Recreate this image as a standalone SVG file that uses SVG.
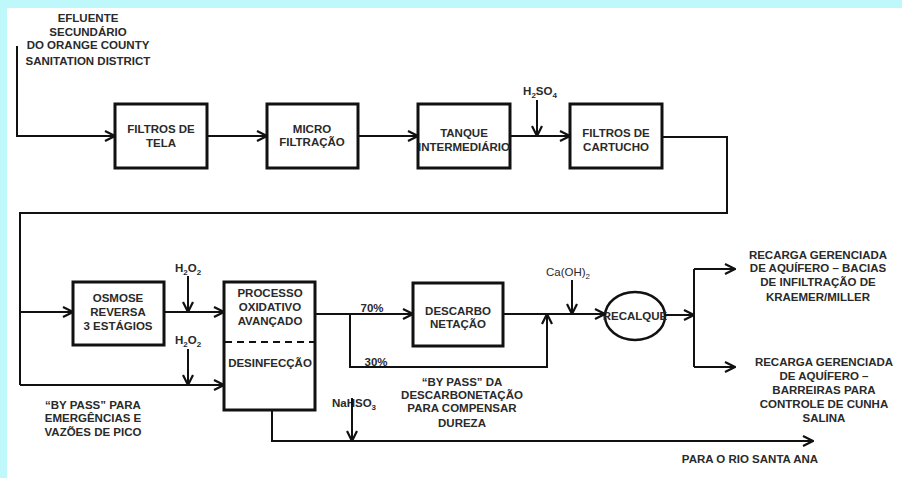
<svg xmlns="http://www.w3.org/2000/svg" width="902" height="478" viewBox="0 0 902 478">
<defs>
<marker id="arr" viewBox="0 0 12 12" markerUnits="userSpaceOnUse" markerWidth="12" markerHeight="12" refX="11" refY="6" orient="auto">
<path d="M1,1 L11,6 L1,11" fill="none" stroke="#111" stroke-width="2.2"/>
</marker>
<style>
.t{font-family:"Liberation Sans",Arial,sans-serif;font-weight:bold;font-size:11.5px;fill:#2a2a2a;text-anchor:middle}
.box{fill:#fff;stroke:#111;stroke-width:3}
.ln{fill:none;stroke:#111;stroke-width:2}
.ar{fill:none;stroke:#111;stroke-width:2;marker-end:url(#arr)}
.sub{font-size:8px}
</style>
</defs>
<rect x="0" y="0" width="902" height="478" fill="#bff8fa"/>
<rect x="7" y="8" width="895" height="470" fill="#fff"/>

<g id="source">
<text class="t" x="88" y="22">EFLUENTE</text>
<text class="t" x="88" y="36">SECUNDÁRIO</text>
<text class="t" x="88" y="49">DO ORANGE COUNTY</text>
<text class="t" x="88" y="65">SANITATION DISTRICT</text>
</g>

<g id="filtros-tela">
<rect class="box" x="115" y="104" width="92" height="64"/>
<text class="t" x="161" y="133">FILTROS DE</text>
<text class="t" x="161" y="147">TELA</text>
</g>
<g id="microfiltracao">
<rect class="box" x="267" y="104" width="91" height="64"/>
<text class="t" x="312" y="133">MICRO</text>
<text class="t" x="312" y="146">FILTRAÇÃO</text>
</g>
<g id="tanque">
<rect class="box" x="418" y="104" width="92" height="64"/>
<text class="t" x="464" y="137">TANQUE</text>
<text class="t" x="464" y="151">INTERMEDIÁRIO</text>
</g>
<g id="filtros-cartucho">
<rect class="box" x="570" y="104" width="92" height="64"/>
<text class="t" x="616" y="137">FILTROS DE</text>
<text class="t" x="616" y="151">CARTUCHO</text>
</g>
<g id="osmose">
<rect class="box" x="73" y="282" width="91" height="63"/>
<text class="t" x="118" y="302">OSMOSE</text>
<text class="t" x="118" y="316">REVERSA</text>
<text class="t" x="118" y="330">3 ESTÁGIOS</text>
</g>
<g id="poa">
<rect class="box" x="224" y="282" width="91" height="128"/>
<line x1="225" y1="342" x2="314" y2="342" stroke="#111" stroke-width="2" stroke-dasharray="7,5"/>
<text class="t" x="270" y="297">PROCESSO</text>
<text class="t" x="270" y="311">OXIDATIVO</text>
<text class="t" x="270" y="325">AVANÇADO</text>
<text class="t" x="270" y="367">DESINFECÇÃO</text>
</g>
<g id="descarbonetacao">
<rect class="box" x="413" y="283" width="90" height="63"/>
<text class="t" x="458" y="315">DESCARBO</text>
<text class="t" x="458" y="328">NETAÇÃO</text>
</g>
<g id="recalque">
<ellipse cx="635" cy="316" rx="30" ry="24" fill="#fff" stroke="#111" stroke-width="2.5"/>
<text class="t" x="635" y="320">RECALQUE</text>
</g>

<g id="reagents">
<text class="t" x="540" y="95">H<tspan class="sub" dy="3">2</tspan><tspan dy="-3">SO</tspan><tspan class="sub" dy="3">4</tspan></text>
<text class="t" x="188" y="272">H<tspan class="sub" dy="3">2</tspan><tspan dy="-3">O</tspan><tspan class="sub" dy="3">2</tspan></text>
<text class="t" x="188" y="344">H<tspan class="sub" dy="3">2</tspan><tspan dy="-3">O</tspan><tspan class="sub" dy="3">2</tspan></text>
<text class="t" x="568" y="276" style="font-weight:normal">Ca(OH)<tspan class="sub" dy="3">2</tspan></text>
<text class="t" x="354" y="407">NaHSO<tspan class="sub" dy="3">3</tspan></text>
</g>

<g id="labels">
<text class="t" x="372" y="312">70%</text>
<text class="t" x="376" y="366">30%</text>
<text class="t" x="93" y="409">“BY PASS” PARA</text>
<text class="t" x="93" y="422">EMERGÊNCIAS E</text>
<text class="t" x="93" y="436">VAZÕES DE PICO</text>
<text class="t" x="462" y="386">“BY PASS” DA</text>
<text class="t" x="462" y="399">DESCARBONETAÇÃO</text>
<text class="t" x="462" y="412">PARA COMPENSAR</text>
<text class="t" x="462" y="427">DUREZA</text>
<text class="t" x="818" y="259">RECARGA GERENCIADA</text>
<text class="t" x="818" y="272">DE AQUÍFERO – BACIAS</text>
<text class="t" x="818" y="286">DE INFILTRAÇÃO DE</text>
<text class="t" x="818" y="301">KRAEMER/MILLER</text>
<text class="t" x="824" y="366">RECARGA GERENCIADA</text>
<text class="t" x="824" y="380">DE AQUÍFERO –</text>
<text class="t" x="824" y="394">BARREIRAS PARA</text>
<text class="t" x="824" y="408">CONTROLE DE CUNHA</text>
<text class="t" x="824" y="422">SALINA</text>
<text class="t" x="750" y="463">PARA O RIO SANTA ANA</text>
</g>

<g id="connectors">
<polyline class="ar" points="17,46 17,136 115,136"/>
<line class="ar" x1="207" y1="136" x2="267" y2="136"/>
<line class="ar" x1="358" y1="136" x2="418" y2="136"/>
<line class="ar" x1="510" y1="136" x2="570" y2="136"/>
<line class="ar" x1="537" y1="100" x2="537" y2="136"/>
<polyline class="ln" points="662,137 727,137 727,213 20,213 20,385"/>
<line class="ar" x1="20" y1="312" x2="73" y2="312"/>
<line class="ar" x1="20" y1="385" x2="224" y2="385"/>
<line class="ar" x1="164" y1="312" x2="224" y2="312"/>
<line class="ar" x1="188" y1="276" x2="188" y2="312"/>
<line class="ar" x1="188" y1="349" x2="188" y2="385"/>
<line class="ar" x1="315" y1="314" x2="413" y2="314"/>
<polyline class="ar" points="350,314 350,367 547,367 547,314"/>
<line class="ar" x1="503" y1="314" x2="605" y2="314"/>
<line class="ar" x1="572" y1="280" x2="572" y2="314"/>
<line class="ar" x1="665" y1="315" x2="694" y2="315"/>
<polyline class="ln" points="694,269 694,367"/>
<line class="ar" x1="694" y1="269" x2="735" y2="269"/>
<line class="ar" x1="694" y1="367" x2="735" y2="367"/>
<polyline class="ar" points="272,410 272,441 813,441"/>
<line class="ar" x1="352" y1="398" x2="352" y2="441"/>
</g>
</svg>
